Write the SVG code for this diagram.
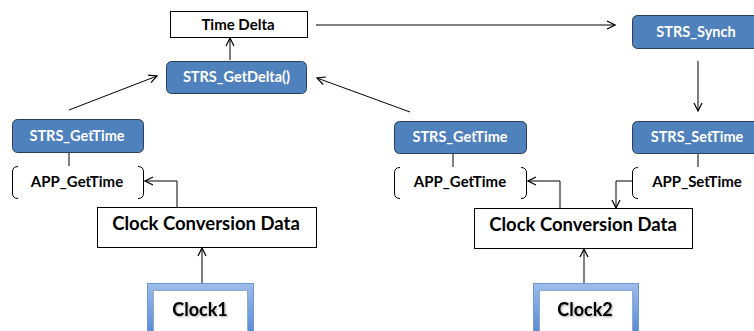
<svg xmlns="http://www.w3.org/2000/svg" width="754" height="331" viewBox="0 0 754 331">
  <defs>
    <marker id="arrow" viewBox="0 0 10 10" refX="9" refY="5" markerWidth="10" markerHeight="10" markerUnits="userSpaceOnUse" orient="auto">
      <path d="M1,1 L9,5 L1,9" fill="none" stroke="#000" stroke-width="1.2"/>
    </marker>
    <linearGradient id="clockFrame" x1="0" y1="0" x2="0" y2="1">
      <stop offset="0" stop-color="#9DBDEB"/>
      <stop offset="1" stop-color="#4A7FCF"/>
    </linearGradient>
    <filter id="softShadow" x="-20%" y="-20%" width="140%" height="140%">
      <feDropShadow dx="1" dy="1" stdDeviation="0.8" flood-color="#000" flood-opacity="0.35"/>
    </filter>
    <style>
      .plain { fill: #fff; stroke: #000; stroke-width: 1; }
      .func { fill: #4F81BD; stroke: #2B3F5C; stroke-width: 1; }
      .brace { fill: none; stroke: #000; stroke-width: 1; }
      .conn { fill: none; stroke: #000; stroke-width: 1; }
      .arr { marker-end: url(#arrow); }
      text { font-family: Lato, "Open Sans", "Liberation Sans", sans-serif; font-weight: bold; text-anchor: middle; }
      .lbl { font-size: 15px; fill: #000; }
      .wlbl { font-size: 14.5px; fill: #fff; }
      .big { font-size: 18.5px; fill: #000; }
      .clk { font-size: 18px; fill: #000; filter: url(#softShadow); }
      .frame { fill: url(#clockFrame); stroke: #6E98D6; stroke-width: 1; }
      .inner { fill: #fff; stroke: #8FA9CF; stroke-width: 1; }
    </style>
  </defs>

  <!-- connectors -->
  <g id="connectors">
    <line class="conn arr" x1="230" y1="60" x2="230" y2="38"/>
    <line class="conn arr" x1="69" y1="110" x2="157" y2="76"/>
    <line class="conn arr" x1="410" y1="112" x2="317" y2="78"/>
    <line class="conn arr" x1="316" y1="25" x2="615" y2="25"/>
    <line class="conn arr" x1="698" y1="61" x2="698" y2="111"/>
    <line class="conn" x1="69" y1="153" x2="69" y2="166"/>
    <line class="conn" x1="453" y1="154" x2="453" y2="167"/>
    <line class="conn" x1="698" y1="154" x2="698" y2="167"/>
    <polyline class="conn arr" points="177,207 177,181 145,181"/>
    <polyline class="conn arr" points="560,208 560,181 528,181"/>
    <polyline class="conn arr" points="632,181 616,181 616,208"/>
    <line class="conn arr" x1="202" y1="283" x2="202" y2="248"/>
    <line class="conn arr" x1="584" y1="283" x2="584" y2="249"/>
  </g>

  <g id="time-delta">
    <rect class="plain" x="170.5" y="11.5" width="137" height="26"/>
    <text class="lbl" x="238" y="30">Time Delta</text>
  </g>

  <g id="strs-getdelta">
    <rect class="func" x="166.5" y="61.5" width="140" height="32" rx="5"/>
    <text class="wlbl" x="236.5" y="82">STRS_GetDelta()</text>
  </g>

  <g id="strs-synch">
    <rect class="func" x="632.5" y="15.5" width="135" height="33" rx="5"/>
    <text class="wlbl" x="696" y="37">STRS_Synch</text>
  </g>

  <g id="strs-gettime-1">
    <rect class="func" x="12.5" y="119.5" width="131" height="33" rx="5"/>
    <text class="wlbl" x="77" y="141">STRS_GetTime</text>
  </g>

  <g id="app-gettime-1">
    <path class="brace" d="M18,166.5 Q12.5,166.5 12.5,172 L12.5,193 Q12.5,198.5 18,198.5"/>
    <path class="brace" d="M138,166.5 Q143.5,166.5 143.5,172 L143.5,193 Q143.5,198.5 138,198.5"/>
    <text class="lbl" x="77" y="187">APP_GetTime</text>
  </g>

  <g id="strs-gettime-2">
    <rect class="func" x="394.5" y="121.5" width="132" height="32" rx="5"/>
    <text class="wlbl" x="460" y="142">STRS_GetTime</text>
  </g>

  <g id="app-gettime-2">
    <path class="brace" d="M400,167.5 Q394.5,167.5 394.5,173 L394.5,193 Q394.5,198.5 400,198.5"/>
    <path class="brace" d="M521,167.5 Q526.5,167.5 526.5,173 L526.5,193 Q526.5,198.5 521,198.5"/>
    <text class="lbl" x="460" y="187">APP_GetTime</text>
  </g>

  <g id="strs-settime">
    <rect class="func" x="632.5" y="121.5" width="135" height="32" rx="5"/>
    <text class="wlbl" x="697" y="142">STRS_SetTime</text>
  </g>

  <g id="app-settime">
    <path class="brace" d="M638,167.5 Q632.5,167.5 632.5,173 L632.5,193 Q632.5,198.5 638,198.5"/>
    <text class="lbl" x="697" y="187">APP_SetTime</text>
  </g>

  <g id="ccd-1">
    <rect class="plain" x="97.5" y="207.5" width="219" height="40"/>
    <text class="big" x="206" y="230">Clock Conversion Data</text>
  </g>

  <g id="ccd-2">
    <rect class="plain" x="474.5" y="208.5" width="218" height="40"/>
    <text class="big" x="583" y="231">Clock Conversion Data</text>
  </g>

  <g id="clock1">
    <rect class="frame" x="147.5" y="283.5" width="106" height="60"/>
    <rect class="inner" x="153.5" y="290.5" width="94" height="46"/>
    <text class="clk" x="200" y="316">Clock1</text>
  </g>

  <g id="clock2">
    <rect class="frame" x="533.5" y="283.5" width="105" height="60"/>
    <rect class="inner" x="539.5" y="290.5" width="93" height="46"/>
    <text class="clk" x="585" y="316">Clock2</text>
  </g>
</svg>
